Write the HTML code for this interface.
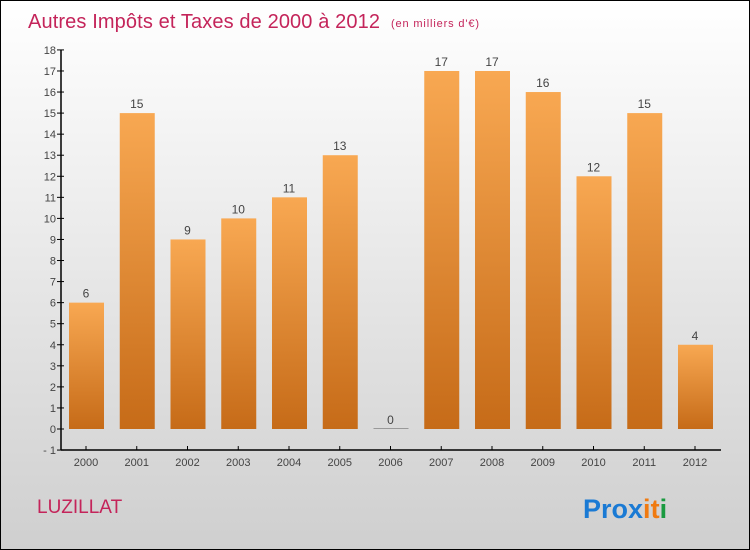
<!DOCTYPE html>
<html><head><meta charset="utf-8"><style>
body{margin:0}
#c{width:748px;height:548px;border:1px solid #000;background:linear-gradient(#fff,#cfcfcf);position:relative;font-family:"Liberation Sans",sans-serif;overflow:hidden}
</style></head><body>
<div id="c">
<svg id="s" width="748" height="548" style="position:absolute;left:0;top:0">
<defs><linearGradient id="g" x1="0" y1="0" x2="0" y2="1"><stop offset="0" stop-color="#f8a852"/><stop offset="1" stop-color="#c66b18"/></linearGradient></defs>
<text x="27" y="27" font-size="20" fill="#c4245a" textLength="352">Autres Impôts et Taxes de 2000 à 2012</text>
<text x="390" y="26" font-size="11" fill="#c4245a" textLength="88">(en milliers d'€)</text>
<text x="36" y="512" font-size="19" fill="#c4245a">LUZILLAT</text>
<text x="582" y="517" font-size="27" font-weight="bold"><tspan fill="#1a7ad4">Pro</tspan><tspan fill="#1a7ad4">x</tspan><tspan fill="#f07a10">i</tspan><tspan fill="#f07a10">t</tspan><tspan fill="#1a9a40">i</tspan></text>
</svg>
</div>
<script>
const categories=["2000","2001","2002","2003","2004","2005","2006","2007","2008","2009","2010","2011","2012"];
const values=[6,15,9,10,11,13,0,17,17,16,12,15,4];
const yTicks=[-1,0,1,2,3,4,5,6,7,8,9,10,11,12,13,14,15,16,17,18];
const svg=document.getElementById('s');const NS='http://www.w3.org/2000/svg';
const y=v=>428-v*21.06;const x=i=>85+i*50.75;
function mk(t,a){const e=document.createElementNS(NS,t);for(const k in a)e.setAttribute(k,a[k]);svg.appendChild(e);return e;}
let ax=mk('line',{x1:60,y1:y(18),x2:60,y2:y(-1),stroke:'#000','stroke-width':1.5});


let bx=mk('line',{x1:60,y1:y(-1),x2:720,y2:y(-1),stroke:'#000','stroke-width':1.5});


yTicks.forEach(t=>{
 let l=mk('line',{x1:56,y1:y(t),x2:63,y2:y(t),stroke:'#000'});
 
 
 let tx=mk('text',{x:55,y:y(t)+4,'font-size':11,fill:'#444','text-anchor':'end'});tx.textContent=t===-1?'- 1':t;
 
 
});
categories.forEach((c,i)=>{
 let l=mk('line',{x1:x(i),y1:y(-1)-4,x2:x(i),y2:y(-1),stroke:'#000'});
 
 
 let tx=mk('text',{x:x(i),y:y(-1)+16,'font-size':11,fill:'#444','text-anchor':'middle'});tx.textContent=c;
 
 
 const v=values[i];
 let b=mk('rect',{x:x(i)-17,y:Math.min(y(v),y(0)-1),width:35,height:Math.max(Math.abs(y(0)-y(v)),1),fill:v>0?'url(#g)':'#999'});
 
 
 let vl=mk('text',{x:x(i),y:y(v)-5,'font-size':12,fill:'#444','text-anchor':'middle'});vl.textContent=v;
 
 
});
</script>
</body></html>
